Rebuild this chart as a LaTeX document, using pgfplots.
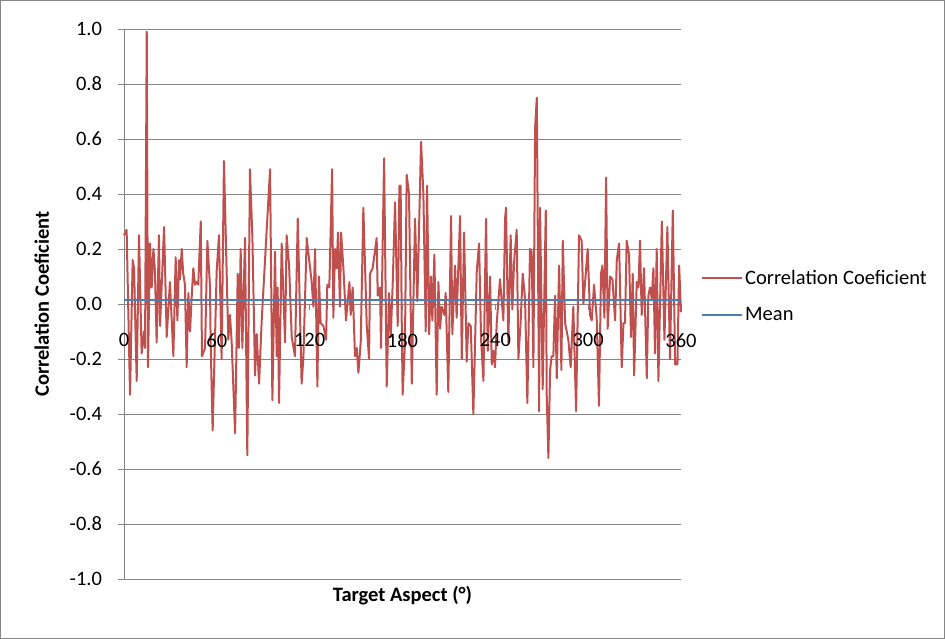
\documentclass[border=0pt]{standalone}
\usepackage{fontspec}
\setmainfont{Carlito}
\usepackage{pgfplots}
\pgfplotsset{compat=1.18}

\definecolor{seriesred}{RGB}{192,80,77}
\definecolor{meanblue}{RGB}{74,126,187}
\definecolor{gridgray}{RGB}{134,134,134}

% tick labels are drawn above the data lines
\pgfplotsset{
  layers/labels on top/.define layer set={
    axis background,axis grid,axis ticks,axis lines,pre main,main,
    axis tick labels,axis descriptions,axis foreground
  }{/pgfplots/layers/standard},
}

% correlation coefficient against target aspect (degrees)
\pgfplotstableread{
deg  r
0    0.25
1.7  0.27
3.9  -0.33
5.6  0.16
6.5  0.13
8.2  -0.28
9.7  0.25
11.4 -0.18
12.9 -0.10
13.6 -0.16
14.7 0.99
15.5 -0.23
16.8 0.22
17.9 0.06
19.0 0.20
20.0 0.12
21.1 -0.14
22.6 0.25
23.3 -0.08
25.9 0.28
27.6 -0.12
29.7 0.08
31.9 -0.19
33.4 0.17
34.5 -0.06
35.6 0.16
36.2 0.09
37.3 0.20
38.3 0.11
39.4 0.07
40.5 -0.23
41.6 0.04
42.7 -0.10
43.7 0.02
44.8 0.13
45.9 0.07
47.0 0.08
48.0 0.07
49.6 0.30
50.4 -0.19
52.4 -0.16
53.9 0.23
55.6 0.06
56.0 -0.14
57.3 -0.46
59.9 0.12
61.4 0.25
63.1 -0.20
64.6 0.52
67.4 -0.13
68.5 -0.04
69.6 -0.14
71.8 -0.47
73.5 0.11
74.3 -0.16
75.4 0.20
76.5 -0.16
78.2 0.24
79.7 -0.55
81.4 0.49
83.0 0.24
84.7 -0.26
85.8 -0.11
87.3 -0.29
89.0 -0.06
94.4 0.49
95.9 -0.35
97.6 0.19
98.7 -0.19
99.3 0.06
100.2 -0.36
101.9 0.22
104.1 -0.14
105.1 0.25
106.7 0.14
108.4 -0.12
110.5 -0.19
112.3 0.31
114.8 -0.29
115.9 -0.20
118.1 0.24
121.3 0.08
122.4 -0.01
123.5 0.20
125.0 -0.30
126.0 0.10
127.1 -0.07
128.9 -0.08
130.6 -0.13
131.4 0.07
132.7 0.06
134.5 0.49
135.3 -0.05
136.4 0.20
137.5 0.13
138.3 0.26
139.6 -0.01
140.3 0.26
141.8 0.13
143.5 -0.06
145.7 0.08
146.5 -0.04
147.8 0.06
149.3 -0.19
150.4 -0.16
151.5 -0.25
153.0 -0.14
154.7 0.35
156.9 -0.08
158.4 -0.20
159.0 0.11
160.7 0.13
163.3 0.24
164.0 0.03
165.5 0.06
166.1 -0.16
168.1 0.53
169.8 -0.30
171.3 0.04
172.4 -0.12
173.7 0.08
175.2 0.37
176.9 -0.08
178.0 0.43
178.8 0.43
179.5 -0.06
180.1 -0.33
181.6 -0.14
182.7 0.47
184.2 0.40
186.0 -0.29
188.1 0.31
189.6 0.01
192.0 0.59
193.5 0.40
195.0 -0.10
195.9 0.43
197.2 -0.11
198.4 0.10
199.3 -0.06
200.6 0.18
202.1 -0.33
203.2 0.08
204.3 -0.09
205.3 -0.01
207.1 -0.04
207.9 0.04
209.6 -0.32
211.4 0.32
212.2 -0.11
214.0 0.14
215.0 -0.05
217.2 0.32
218.3 -0.20
219.8 0.26
221.5 -0.21
222.6 -0.07
224.1 -0.08
225.8 -0.40
228.0 0.12
229.5 0.22
230.8 -0.13
232.3 -0.28
234.0 0.31
235.1 -0.17
236.6 0.10
237.7 -0.22
238.7 -0.17
239.8 -0.23
240.9 -0.07
243.0 0.09
245.2 -0.06
246.3 0.31
246.9 0.35
248.4 -0.14
249.9 0.25
251.0 -0.02
252.1 0.15
253.8 0.27
254.9 -0.20
256.4 -0.06
257.7 0.11
259.2 0.02
260.7 -0.36
262.4 0.20
263.5 0.19
264.6 -0.23
265.7 0.64
266.8 0.75
268.3 -0.39
268.9 0.35
270.6 -0.31
272.6 0.34
273.2 -0.33
274.3 -0.56
275.4 -0.24
276.4 -0.19
277.5 -0.19
278.6 0.03
279.7 -0.27
281.2 0.14
282.7 -0.24
283.6 0.23
285.1 -0.07
287.2 -0.13
288.7 -0.23
290.4 -0.01
292.2 -0.39
294.1 0.25
295.8 0.23
296.9 0.00
299.7 0.20
301.2 -0.04
302.3 -0.06
303.8 0.07
305.5 -0.05
307.0 -0.37
308.3 0.11
309.2 0.14
310.5 -0.05
311.6 0.46
312.6 -0.09
314.2 0.10
315.7 0.09
317.4 -0.06
318.5 0.16
320.0 0.22
321.7 -0.23
322.8 -0.07
323.8 -0.07
324.9 0.23
326.4 0.18
327.7 -0.12
328.8 0.11
329.7 -0.26
331.4 0.08
332.5 0.06
333.5 0.23
334.6 -0.04
336.1 0.13
337.9 -0.27
338.9 0.03
340.0 0.06
341.1 0.02
342.2 0.13
343.2 -0.18
344.3 0.20
345.4 -0.28
347.6 0.30
349.3 -0.13
351.2 0.28
352.9 -0.20
354.7 0.34
356.2 -0.22
357.7 -0.22
358.8 0.14
360.0 -0.03
}\corrdata

\begin{document}
\begin{tikzpicture}[x=1pt,y=1pt]
\begin{axis}[
  set layers=labels on top,
  scale only axis, width=557pt, height=550pt,
  xmin=0, xmax=360, ymin=-1, ymax=1,
  axis x line=middle, axis y line=left,
  hide obscured x ticks=false,
  x axis line style={-, gridgray, line width=0.9pt},
  y axis line style={-, gridgray, line width=0.9pt},
  xtick={0,60,...,360}, ytick={-1,-0.8,...,1.01},
  tick style={gridgray, line width=0.9pt},
  xtick align=outside, ytick align=outside,
  major tick length=6pt,
  ymajorgrids, grid style={gridgray, line width=0.9pt},
  /pgf/number format/assume math mode=true,
  yticklabel style={/pgf/number format/.cd, fixed, fixed zerofill, precision=1},
  ticklabel style={font=\fontsize{20.5}{24}\selectfont, text=black},
  xticklabel shift=20pt,
  yticklabel shift=12.5pt,
  xlabel={\textbf{Target Aspect (°)}},
  ylabel={\textbf{Correlation Coeficient}},
  xlabel style={at={(axis description cs:0.5,-0.031)}, anchor=center, font=\fontsize{20.5}{24}\selectfont},
  ylabel style={at={(axis description cs:-0.1475,0.5)}, anchor=center, rotate=0, font=\fontsize{20.5}{24}\selectfont},
  legend style={at={(axis description cs:1.0359,0.5145)}, anchor=west, draw=none, fill=none,
    font=\fontsize{20.5}{24}\selectfont, inner sep=0pt, row sep=18pt,
    nodes={inner sep=2pt}},
  legend cell align=left,
  legend image code/.code={\draw[#1] (0pt,0pt) -- (40pt,0pt);},
  clip=false,
]
\addplot[seriesred, line width=2pt, line join=round] table[x=deg, y=r] {\corrdata};
\addlegendentry{Correlation Coeficient}
\addplot[meanblue, line width=2pt] coordinates {(0,0.015) (360,0.015)};
\addlegendentry{Mean}
\end{axis}
\pgfresetboundingbox
\useasboundingbox (-124,-60) rectangle (821,579);
\draw[gridgray, line width=1.2pt] (-123.4,-59.4) rectangle (820.4,578.4);
\end{tikzpicture}
\end{document}
